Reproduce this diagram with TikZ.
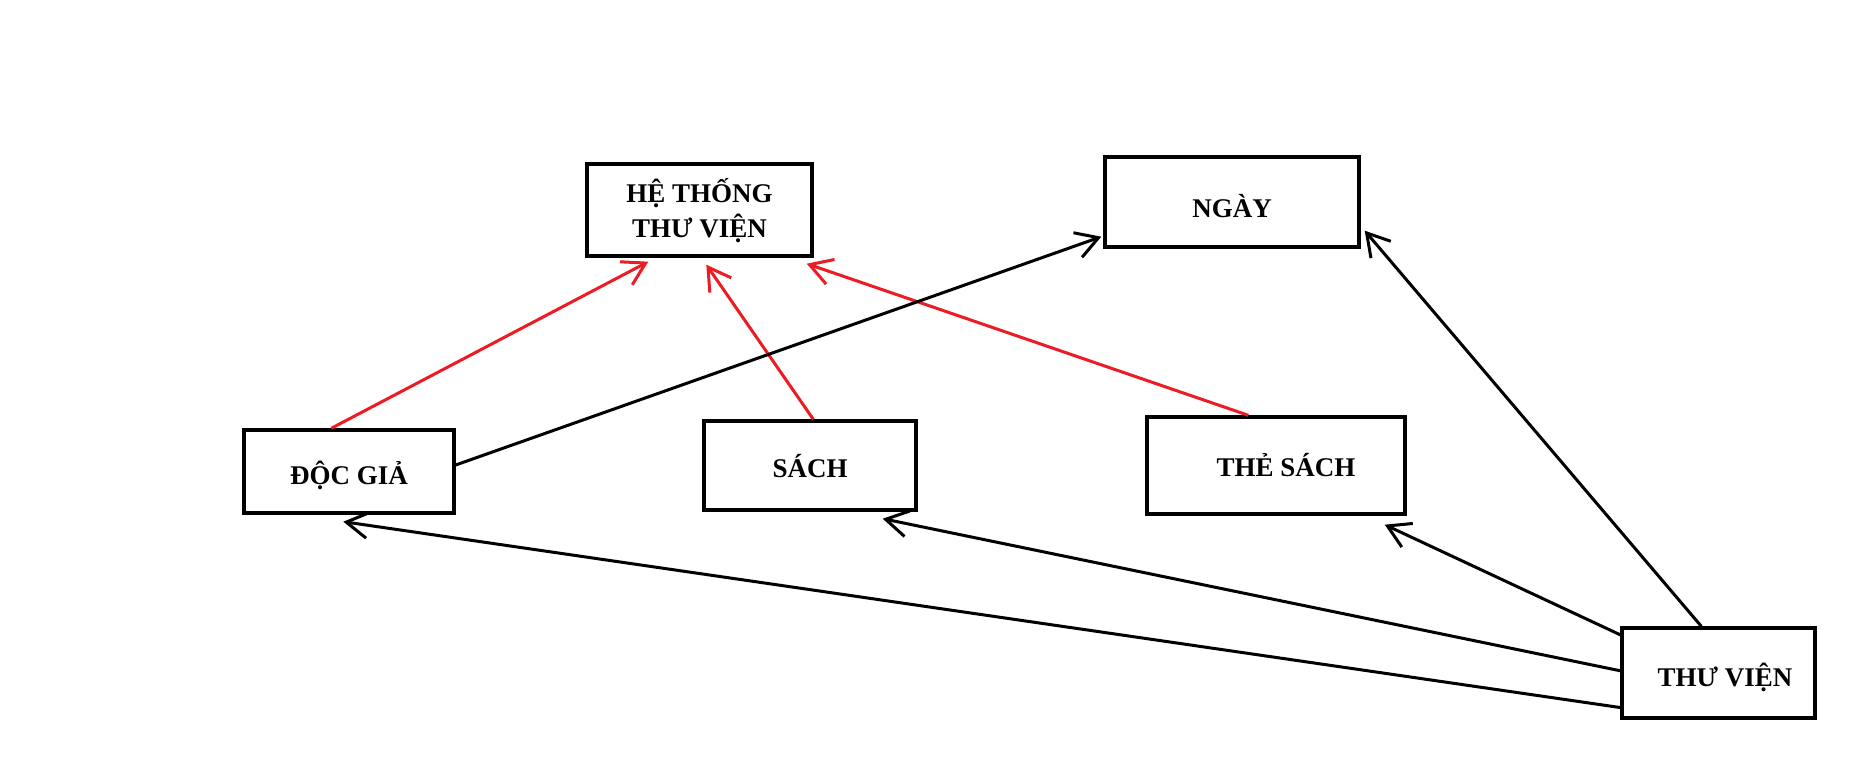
\documentclass[tikz,border=0pt]{standalone}
\usepackage{fontspec}
\setmainfont{Liberation Serif}
\usetikzlibrary{arrows.meta}
\definecolor{pred}{RGB}{237,28,36}
\newcommand{\lowr}[2]{\raisebox{-#1}[\height][\depth]{#2}}
\tikzset{
  box/.style={draw=black, line width=3.4pt, rectangle, inner sep=0pt, align=center,
    font=\bfseries\fontsize{27}{35}\selectfont},
  link/.style={line width=3pt, -{Straight Barb[length=22pt,width=26pt]}},
  redlink/.style={link, draw=pred},
  blacklink/.style={link, draw=black}
}
\begin{document}
\begin{tikzpicture}[x=1pt,y=-1pt]
\useasboundingbox[fill=white] (0,0) rectangle (1872,775);
\node[box, minimum width=225pt, minimum height=92pt] (httv) at (699.5,210)
  {\lowr{3pt}{\setlength{\tabcolsep}{0pt}\begin{tabular}{c}HỆ THỐNG\\THƯ VIỆN\end{tabular}}};
\node[box, minimum width=254pt, minimum height=90pt] (ngay) at (1232,202) {\lowr{4pt}{NGÀY}};
\node[box, minimum width=210pt, minimum height=83pt] (dg) at (349,471.5) {\lowr{4pt}{ĐỘC GIẢ}};
\node[box, minimum width=212pt, minimum height=89pt] (sach) at (810,465.5) {\lowr{1pt}{SÁCH}};
\node[box, minimum width=258pt, minimum height=97pt] (the) at (1276,465.5) {\hspace{20pt}THẺ SÁCH};
\node[box, minimum width=193pt, minimum height=90pt] (tv) at (1718.5,673) {\hspace{13pt}\lowr{4pt}{THƯ VIỆN}};
% red arrows
\draw[redlink] ([xshift=89pt]dg.north west) -- ([xshift=63pt,yshift=-4pt]httv.south west);
\draw[redlink] ([xshift=111pt]sach.north west) -- ([xshift=121pt,yshift=-7pt]httv.south west);
\draw[redlink] ([xshift=103pt]the.north west) -- ([xshift=-7pt,yshift=-6pt]httv.south east);
% black arrows
\draw[blacklink] ([yshift=6.5pt]dg.east) -- ([xshift=-2pt,yshift=12pt]ngay.south west);
\draw[blacklink] ([xshift=81pt]tv.north west) -- ([xshift=4pt,yshift=18pt]ngay.south east);
\draw[blacklink] ([xshift=1pt,yshift=-9pt]tv.north west) -- ([xshift=-22pt,yshift=-9pt]the.south east);
\draw[blacklink] ([xshift=1pt,yshift=2pt]tv.west) -- ([xshift=-35pt,yshift=-7pt]sach.south east);
\draw[blacklink] ([xshift=1pt,yshift=12pt]tv.south west) -- ([xshift=101pt,yshift=-7pt]dg.south west);
\end{tikzpicture}
\end{document}
